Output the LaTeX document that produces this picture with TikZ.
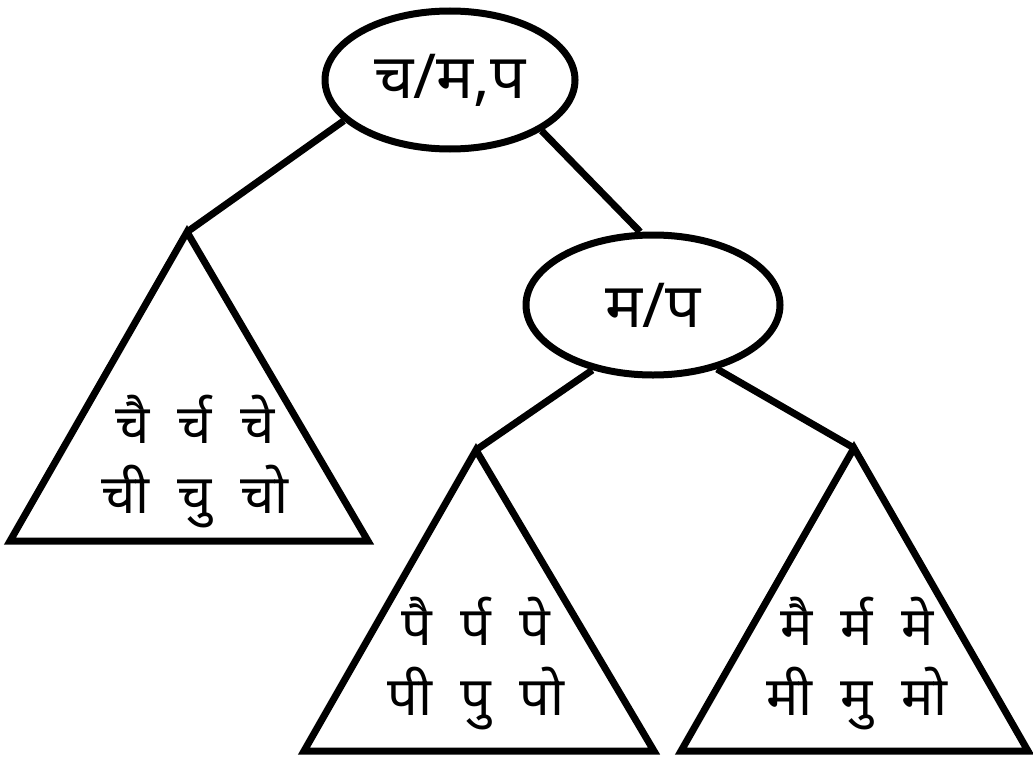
\documentclass[tikz,border=0pt]{standalone}
\usepackage{fontspec}
\usepackage{tikz}
\usetikzlibrary{shapes.geometric}
\newfontfamily\devfont[Script=Devanagari]{Noto Sans}

\begin{document}
\begin{tikzpicture}[
    x=1pt, y=-1pt,
    line width=7pt,
    split/.style={ellipse, draw, inner sep=0pt, font={\devfont\fontsize{62}{70}\selectfont}},
    leaves/.style={align=center, inner sep=0pt, font={\devfont\fontsize{54}{70}\selectfont}},
    branch/.style={draw, line width=7pt}
]
    \useasboundingbox (0,0) rectangle (1033,760);

    % Split nodes
    \node[split, minimum width=250pt, minimum height=138pt] (root) at (450,80) {च/म,प};
    \node[split, minimum width=254pt, minimum height=140pt] (mp) at (653,305) {म/प};

    % Subtree apexes
    \coordinate (chtop) at (187,232);
    \coordinate (ptop) at (476,450);
    \coordinate (mtop) at (854,448);

    % Subtrees
    \draw (chtop) -- (368,541) -- (10,541) -- cycle;
    \draw (ptop) -- (654,751) -- (304,751) -- cycle;
    \draw (mtop) -- (1028,751) -- (681,751) -- cycle;

    % Branches
    \draw[branch] (root.201) -- (chtop);
    \draw[branch] (root.331) -- (mp.100);
    \draw[branch] (mp.227) -- (ptop);
    \draw[branch] (mp.315) -- (mtop);

    % Leaf syllables
    \node[leaves] (chleaf) at (195,462) {चै~~र्च~~चे\\ची~~चु~~चो};
    \node[leaves] (pleaf) at (476,664) {पै~~र्प~~पे\\पी~~पु~~पो};
    \node[leaves] (mleaf) at (857,664) {मै~~र्म~~मे\\मी~~मु~~मो};
\end{tikzpicture}
\end{document}
